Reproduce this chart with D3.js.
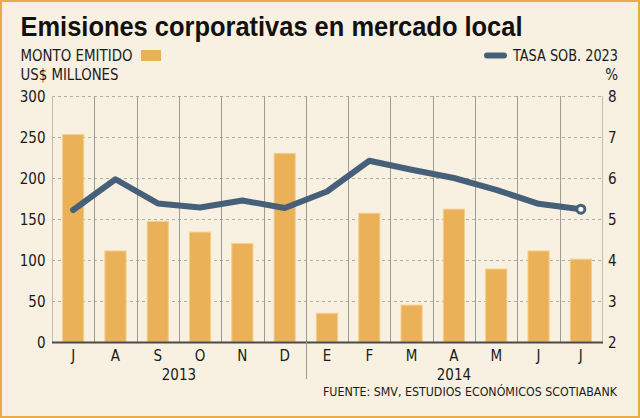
<!DOCTYPE html>
<html><head><meta charset="utf-8">
<script src="https://cdn.jsdelivr.net/npm/d3@7"></script>
<style>
html,body{margin:0;padding:0;background:#f8f0e0;}
svg{display:block;}
</style></head>
<body>
<svg id="c" width="640" height="418"></svg>
<script>
const months = ["J","A","S","O","N","D","E","F","M","A","M","J","J"];
const monto = [253,111,147,134,120,230,35,157,45,162,89,111,101];
const tasa = [5.22,5.97,5.38,5.28,5.45,5.27,5.67,6.42,6.2,6.0,5.71,5.37,5.24];
const leftTicks = [0,50,100,150,200,250,300];
const rightTicks = [2,3,4,5,6,7,8];
const years = [{label:"2013", from:0, to:6},{label:"2014", from:6, to:13}];

const svg = d3.select("#c");
const W = 640, H = 418;
const m = {l:52, r:602, t:96, b:342};
const font = "'DejaVu Sans Condensed','DejaVu Sans',sans-serif";

svg.append("rect").attr("x",1).attr("y",1).attr("width",W-2).attr("height",H-2)
  .attr("fill","#f8f0e0").attr("stroke","#e9ac48").attr("stroke-width",2);

const idx = d3.range(months.length);
const x = d3.scaleBand().domain(idx).range([m.l,m.r]).paddingInner(0).paddingOuter(0);
const yL = d3.scaleLinear().domain([0,300]).range([m.b,m.t]);
const yR = d3.scaleLinear().domain([2,8]).range([m.b,m.t]);

// horizontal dashed grid
svg.append("g").selectAll("line").data(leftTicks.filter(d=>d>0)).join("line")
  .attr("x1",m.l).attr("x2",m.r).attr("y1",d=>yL(d)+0.5).attr("y2",d=>yL(d)+0.5)
  .attr("stroke","#b3aca0").attr("stroke-width",1).attr("stroke-dasharray","3,3");

// vertical grid at boundaries
const bounds = d3.range(months.length+1).map(i=> i<months.length ? x(i) : m.r);
svg.append("g").selectAll("line").data(bounds).join("line")
  .attr("x1",d=>Math.round(d)+0.5).attr("x2",d=>Math.round(d)+0.5)
  .attr("y1",m.t).attr("y2",m.b)
  .attr("stroke",(d,i)=> (i===0||i===months.length)?"#c4bcae":"#9e9a94").attr("stroke-width",1);

// bars
svg.append("g").selectAll("rect").data(monto).join("rect")
  .attr("x",(d,i)=>x(i)+x.bandwidth()*0.25)
  .attr("width",x.bandwidth()*0.5)
  .attr("y",d=>yL(d)).attr("height",d=>yL(0)-yL(d))
  .attr("fill","#ebb158").attr("stroke","#f4cf8e").attr("stroke-width",1);

// baseline
svg.append("line").attr("x1",m.l).attr("x2",m.r+1).attr("y1",m.b+0.5).attr("y2",m.b+0.5)
  .attr("stroke","#4a4a48").attr("stroke-width",2);

// divider between years
svg.append("line").attr("x1",Math.round(x(6))+0.5).attr("x2",Math.round(x(6))+0.5)
  .attr("y1",m.b).attr("y2",379).attr("stroke","#9e9a94").attr("stroke-width",1);

// line
const line = d3.line().x((d,i)=>x(i)+x.bandwidth()/2).y(d=>yR(d));
svg.append("path").datum(tasa).attr("d",line).attr("fill","none")
  .attr("stroke","#46607a").attr("stroke-width",6).attr("stroke-linejoin","round").attr("stroke-linecap","round");
const li = tasa.length-1;
svg.append("circle").attr("cx",x(li)+x.bandwidth()/2).attr("cy",yR(tasa[li])).attr("r",4)
  .attr("fill","#ffffff").attr("stroke","#46607a").attr("stroke-width",3);

// axes labels
svg.append("g").selectAll("text").data(leftTicks).join("text")
  .attr("x",45.5).attr("y",d=>yL(d)+5.5).attr("text-anchor","end")
  .attr("font-family",font).attr("font-size",15).attr("fill","#1a1a1a").text(d=>d);
svg.append("g").selectAll("text").data(rightTicks).join("text")
  .attr("x",608).attr("y",d=>yR(d)+5.5).attr("text-anchor","start")
  .attr("font-family",font).attr("font-size",15).attr("fill","#1a1a1a").text(d=>d);
svg.append("g").selectAll("text").data(months).join("text")
  .attr("x",(d,i)=>x(i)+x.bandwidth()/2).attr("y",361).attr("text-anchor","middle")
  .attr("font-family",font).attr("font-size",15).attr("fill","#1a1a1a").text(d=>d);
svg.append("g").selectAll("text").data(years).join("text")
  .attr("x",d=>(x(d.from)+ (d.to<months.length? x(d.to): m.r))/2).attr("y",379.5).attr("text-anchor","middle")
  .attr("font-family",font).attr("font-size",15).attr("fill","#1a1a1a").text(d=>d.label);

// title
svg.append("text").attr("x",20.5).attr("y",36).attr("font-family","'Liberation Sans Narrow','Arial Narrow',sans-serif")
  .attr("font-weight","bold").attr("font-size",27).attr("fill","#111")
  .attr("textLength",502).attr("lengthAdjust","spacingAndGlyphs")
  .text("Emisiones corporativas en mercado local");

// legends
svg.append("text").attr("x",20.5).attr("y",61).attr("font-family",font).attr("font-size",15).attr("fill","#1a1a1a")
  .attr("textLength",112).attr("lengthAdjust","spacingAndGlyphs").text("MONTO EMITIDO");
svg.append("rect").attr("x",141).attr("y",50).attr("width",20).attr("height",11).attr("fill","#ebb158");
svg.append("text").attr("x",20.5).attr("y",80).attr("font-family",font).attr("font-size",15).attr("fill","#1a1a1a")
  .attr("textLength",98).attr("lengthAdjust","spacingAndGlyphs").text("US$ MILLONES");

svg.append("line").attr("x1",487).attr("x2",504).attr("y1",55.5).attr("y2",55.5)
  .attr("stroke","#46607a").attr("stroke-width",6).attr("stroke-linecap","round");
svg.append("text").attr("x",618).attr("y",61).attr("text-anchor","end").attr("font-family",font).attr("font-size",15).attr("fill","#1a1a1a")
  .attr("textLength",105).attr("lengthAdjust","spacingAndGlyphs").text("TASA SOB. 2023");
svg.append("text").attr("x",618).attr("y",80).attr("text-anchor","end").attr("font-family",font).attr("font-size",15).attr("fill","#1a1a1a").text("%");

svg.append("text").attr("x",617).attr("y",396).attr("text-anchor","end").attr("font-family",font).attr("font-size",12.5).attr("fill","#1a1a1a")
  .attr("textLength",294).attr("lengthAdjust","spacingAndGlyphs").text("FUENTE: SMV, ESTUDIOS ECONÓMICOS SCOTIABANK");
</script>
</body></html>
